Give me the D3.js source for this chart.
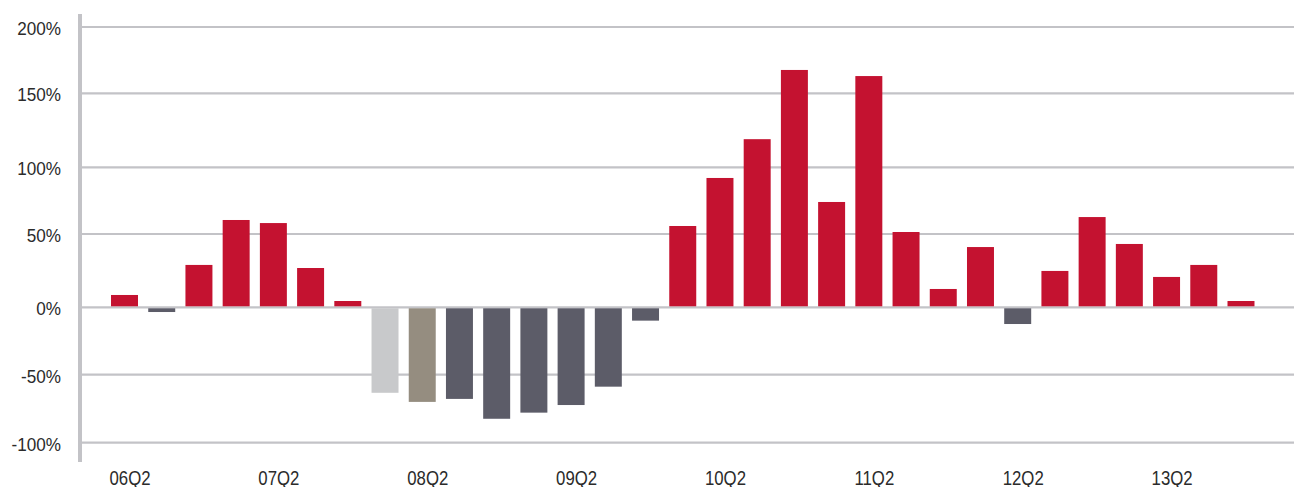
<!DOCTYPE html>
<html>
<head>
<meta charset="utf-8">
<script src="https://cdn.jsdelivr.net/npm/d3@7"></script>
<style>
  html, body { margin: 0; padding: 0; background: #ffffff; }
  svg { display: block; }
  .lbl { font-family: "Liberation Sans", Arial, sans-serif; fill: #2b2b2b; }
</style>
</head>
<body>
<svg id="chart" width="1294" height="487"></svg>
<script>
const categories = ["06Q2","06Q3","06Q4","07Q1","07Q2","07Q3","07Q4","08Q1","08Q2","08Q3","08Q4",
  "09Q1","09Q2","09Q3","09Q4","10Q1","10Q2","10Q3","10Q4","11Q1","11Q2","11Q3","11Q4",
  "12Q1","12Q2","12Q3","12Q4","13Q1","13Q2","13Q3","13Q4"];
const values = [8.4, -3.5, 28.9, 60.5, 58.2, 26.8, 4.3, -63.3, -70, -67.8, -82.4,
  -77.9, -72.3, -58.8, -9.9, 56, 92, 119, 167.6, 74, 163, 51.5, 12.5,
  41.1, -12.4, 24.8, 62.7, 43.2, 20.7, 28.9, 4.3];
// colour group per bar: r = red, d = dark grey, l = light grey, t = taupe
const colorGroups = ["r","d","r","r","r","r","r","l","t","d","d",
  "d","d","d","d","r","r","r","r","r","r","r","r",
  "r","d","r","r","r","r","r","r"];
const yTicks = [-100, -50, 0, 50, 100, 150, 200];
const xTickLabels = ["06Q2","07Q2","08Q2","09Q2","10Q2","11Q2","12Q2","13Q2"];

const palette = { r: "#c41230", d: "#5c5c68", l: "#c8c9cb", t: "#958d80" };

const svg = d3.select("#chart");

const x = d3.scaleBand()
  .domain(categories)
  .range([105.9, 1259.6])
  .paddingInner(0.275)
  .paddingOuter(0.1375);

const y = d3.scaleLinear()
  .domain(yTicks)
  .range([442.7, 374.7, 307.3, 234, 167.3, 93.3, 27]);

// gridlines
svg.append("g")
  .selectAll("line")
  .data(yTicks)
  .join("line")
  .attr("x1", 80)
  .attr("x2", 1294)
  .attr("y1", d => y(d))
  .attr("y2", d => y(d))
  .attr("stroke", "#c3c3c7")
  .attr("stroke-width", 2.2);

// bars
svg.append("g")
  .selectAll("rect")
  .data(categories.map((c, i) => ({ c, v: values[i], g: colorGroups[i] })))
  .join("rect")
  .attr("x", d => x(d.c))
  .attr("width", x.bandwidth())
  .attr("y", d => d.v >= 0 ? y(d.v) : y(0) + 1)
  .attr("height", d => d.v >= 0 ? y(0) - 1 - y(d.v) : y(d.v) - y(0) - 1)
  .attr("fill", d => palette[d.g]);

// y axis line
svg.append("rect")
  .attr("x", 78)
  .attr("y", 14)
  .attr("width", 4)
  .attr("height", 448)
  .attr("fill", "#c3c3c7");

function condense(sel, factor) {
  sel.each(function () {
    const w = this.getComputedTextLength();
    d3.select(this).attr("textLength", w * factor).attr("lengthAdjust", "spacingAndGlyphs");
  });
}

// y labels
const yAxis = d3.axisLeft(y).tickValues(yTicks).tickFormat(d => d + "%").tickSize(0).tickPadding(0);
const yg = svg.append("g").attr("transform", "translate(61,1)").call(yAxis);
yg.attr("font-size", null).attr("font-family", null);
yg.select(".domain").remove();
yg.selectAll("text").attr("class", "lbl").attr("fill", null).attr("font-size", "19px").attr("dy", "0.35em");
condense(yg.selectAll("text"), 0.9);

// x labels
const xAxis = d3.axisBottom(x).tickValues(xTickLabels).tickSize(0).tickPadding(0);
const xg = svg.append("g").attr("transform", "translate(5.5,0)").call(xAxis);
xg.attr("font-size", null).attr("font-family", null);
xg.select(".domain").remove();
xg.selectAll("text").attr("class", "lbl").attr("fill", null).attr("font-size", "19.5px").attr("y", 484.5).attr("dy", null);
condense(xg.selectAll("text"), 0.86);
</script>
</body>
</html>
